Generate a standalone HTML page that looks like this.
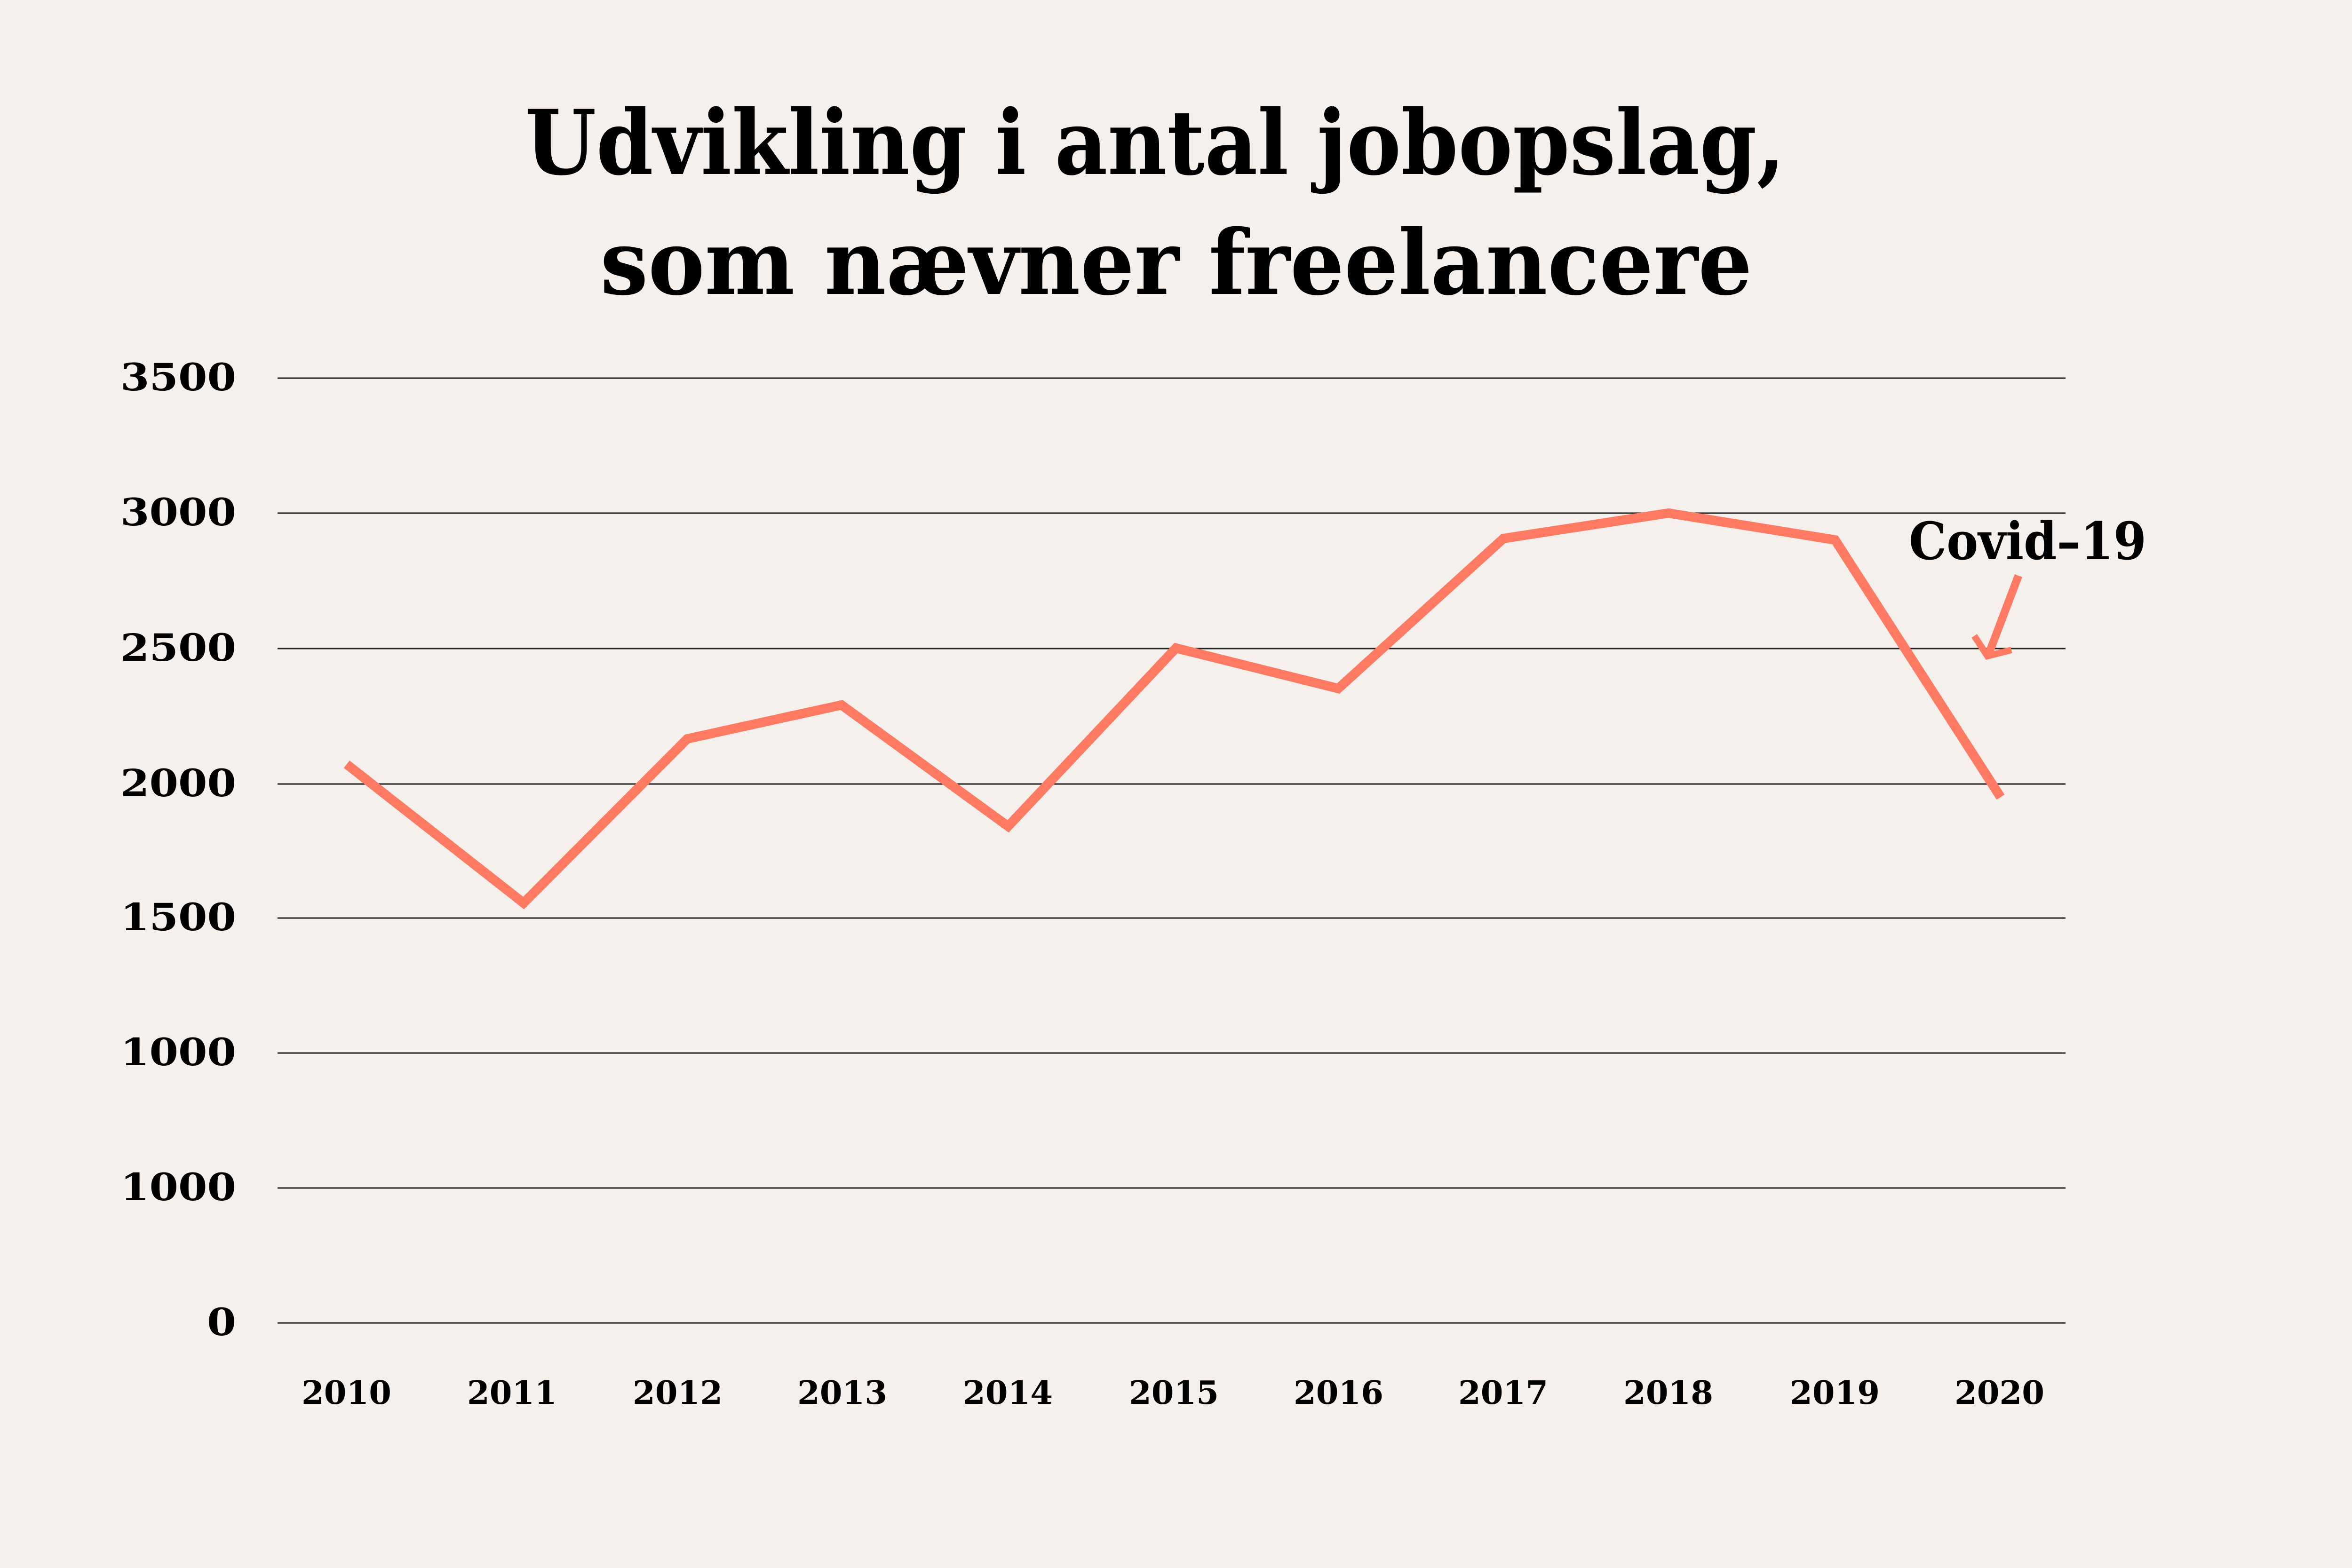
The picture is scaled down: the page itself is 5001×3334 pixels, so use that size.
<!DOCTYPE html>
<html><head><meta charset="utf-8"><style>
html,body{margin:0;padding:0;background:#F5F0EB;}
svg{display:block;}
text{font-family:"DejaVu Serif","Liberation Serif",serif;font-weight:bold;fill:#000;}
</style></head><body>
<svg width="5001" height="3334" viewBox="0 0 5001 3334" xmlns="http://www.w3.org/2000/svg">
<rect width="5001" height="3334" fill="#F5F0EB"/>
<text x="1116" y="370" font-size="190" textLength="2679" lengthAdjust="spacingAndGlyphs">Udvikling i antal jobopslag,</text>
<text x="1276" y="625" font-size="190" textLength="2449" lengthAdjust="spacingAndGlyphs">som nævner freelancere</text>
<g stroke="#222" stroke-width="3">
<line x1="590" y1="804" x2="4391" y2="804"/>
<line x1="590" y1="1091" x2="4391" y2="1091"/>
<line x1="590" y1="1379" x2="4391" y2="1379"/>
<line x1="590" y1="1667" x2="4391" y2="1667"/>
<line x1="590" y1="1952" x2="4391" y2="1952"/>
<line x1="590" y1="2239" x2="4391" y2="2239"/>
<line x1="590" y1="2526" x2="4391" y2="2526"/>
<line x1="590" y1="2813" x2="4391" y2="2813"/>
</g>
<g font-size="80">
<text x="256" y="830" textLength="246" lengthAdjust="spacingAndGlyphs">3500</text>
<text x="256" y="1117" textLength="246" lengthAdjust="spacingAndGlyphs">3000</text>
<text x="256" y="1405" textLength="246" lengthAdjust="spacingAndGlyphs">2500</text>
<text x="256" y="1693" textLength="246" lengthAdjust="spacingAndGlyphs">2000</text>
<text x="256" y="1978" textLength="246" lengthAdjust="spacingAndGlyphs">1500</text>
<text x="256" y="2265" textLength="246" lengthAdjust="spacingAndGlyphs">1000</text>
<text x="256" y="2552" textLength="246" lengthAdjust="spacingAndGlyphs">1000</text>
<text x="440" y="2839" textLength="62" lengthAdjust="spacingAndGlyphs">0</text>
</g>
<g font-size="68">
<text x="641" y="2985" textLength="191" lengthAdjust="spacingAndGlyphs">2010</text>
<text x="993" y="2985" textLength="191" lengthAdjust="spacingAndGlyphs">2011</text>
<text x="1345" y="2985" textLength="191" lengthAdjust="spacingAndGlyphs">2012</text>
<text x="1695" y="2985" textLength="191" lengthAdjust="spacingAndGlyphs">2013</text>
<text x="2047" y="2985" textLength="191" lengthAdjust="spacingAndGlyphs">2014</text>
<text x="2400" y="2985" textLength="191" lengthAdjust="spacingAndGlyphs">2015</text>
<text x="2750" y="2985" textLength="191" lengthAdjust="spacingAndGlyphs">2016</text>
<text x="3100" y="2985" textLength="191" lengthAdjust="spacingAndGlyphs">2017</text>
<text x="3451" y="2985" textLength="191" lengthAdjust="spacingAndGlyphs">2018</text>
<text x="3805" y="2985" textLength="191" lengthAdjust="spacingAndGlyphs">2019</text>
<text x="4155" y="2985" textLength="191" lengthAdjust="spacingAndGlyphs">2020</text>
</g>
<polyline fill="none" stroke="#FF7A63" stroke-width="20" stroke-linejoin="miter" points="737,1625 1113,1920 1461,1571 1789,1499 2143,1757 2500,1378 2845,1464 3196,1145 3547,1091 3901,1148 4253,1695"/>
<text x="4058" y="1189" font-size="110" textLength="505" lengthAdjust="spacingAndGlyphs">Covid–19</text>
<line x1="4291" y1="1224" x2="4228" y2="1390" stroke="#FF7A63" stroke-width="17"/>
<polyline fill="none" stroke="#FF7A63" stroke-width="14" points="4197,1352 4225,1395 4276,1382"/>
</svg>
</body></html>
